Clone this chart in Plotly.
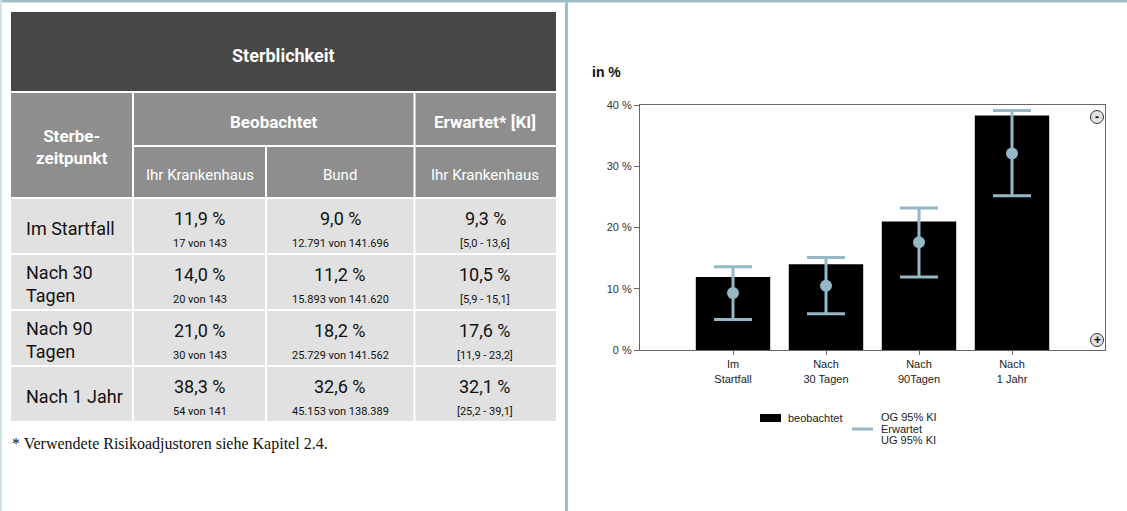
import plotly.graph_objects as go

W, H = 1127, 511

# ---------------- data ----------------
row_labels = ["Im Startfall", "Nach 30<br>Tagen", "Nach 90<br>Tagen", "Nach 1 Jahr"]
obs_house_pct = ["11,9 %", "14,0 %", "21,0 %", "38,3 %"]
obs_house_cnt = ["17 von 143", "20 von 143", "30 von 143", "54 von 141"]
obs_bund_pct = ["9,0 %", "11,2 %", "18,2 %", "32,6 %"]
obs_bund_cnt = ["12.791 von 141.696", "15.893 von 141.620", "25.729 von 141.562", "45.153 von 138.389"]
exp_pct = ["9,3 %", "10,5 %", "17,6 %", "32,1 %"]
exp_ki = ["[5,0 - 13,6]", "[5,9 - 15,1]", "[11,9 - 23,2]", "[25,2 - 39,1]"]

categories = ["Im<br>Startfall", "Nach<br>30 Tagen", "Nach<br>90Tagen", "Nach<br>1 Jahr"]
beobachtet = [11.9, 14.0, 21.0, 38.3]
erwartet = [9.3, 10.5, 17.6, 32.1]
ug_95 = [5.0, 5.9, 11.9, 25.2]
og_95 = [13.6, 15.1, 23.2, 39.1]
y_ticks = [0, 10, 20, 30, 40]
y_ticklabels = ["0 %", "10 %", "20 %", "30 %", "40 %"]


def px(x):
    return x / W


def py(y):
    return 1 - y / H


shapes = []
annos = []


def rect(x0, y0, x1, y1, color, line=None):
    shapes.append(dict(type="rect", xref="paper", yref="paper",
                       x0=px(x0), x1=px(x1), y0=py(y1), y1=py(y0),
                       fillcolor=color, line=line or dict(width=0), layer="below"))


def text(x, y, t, size=14, color="#222", bold=False, family="Roboto, Arial, sans-serif",
         xanchor="center"):
    if bold:
        t = "<b>" + t + "</b>"
    annos.append(dict(x=px(x), y=py(y), xref="paper", yref="paper", text=t,
                      showarrow=False, xanchor=xanchor, yanchor="middle",
                      align=xanchor if xanchor != "center" else "center",
                      font=dict(size=size, color=color, family=family)))


# ---------------- page borders ----------------
rect(0, 0, W, 2.5, "#9dbdc7")
rect(0, 0, 2, H, "#cfe2e8")
rect(565, 0, 568, H, "#9fbfc9")

# ---------------- table ----------------
TL, TR = 11, 556
c1, c2, c3 = 133, 266, 414.5
DARK, MID, LIGHT = "#474747", "#8e8e8e", "#e1e1e1"
tfont = "Roboto, Arial, sans-serif"

rect(TL, 12, TR, 91, DARK)
text((TL + TR) / 2, 55, "Sterblichkeit", 18, "white", True, tfont)

rect(TL, 93, c1 - 1, 197, MID)
rect(c1 + 1, 93, c3 - 1, 145, MID)
rect(c3 + 1, 93, TR, 145, MID)
rect(c1 + 1, 147, c2 - 1, 197, MID)
rect(c2 + 1, 147, c3 - 1, 197, MID)
rect(c3 + 1, 147, TR, 197, MID)
text((TL + c1) / 2, 147, "Sterbe-<br>zeitpunkt", 17, "white", True, tfont)
text((c1 + c3) / 2, 122, "Beobachtet", 17, "white", True, tfont)
text((c3 + TR) / 2, 122, "Erwartet* [KI]", 17, "white", True, tfont)
text((c1 + c2) / 2, 175, "Ihr Krankenhaus", 15, "white", False, tfont)
text((c2 + c3) / 2, 175, "Bund", 15, "white", False, tfont)
text((c3 + TR) / 2, 175, "Ihr Krankenhaus", 15, "white", False, tfont)

row_tops = [199, 255, 311, 367]
row_h = 54
for i, top in enumerate(row_tops):
    bot = top + row_h
    rect(TL, top, c1 - 1, bot, LIGHT)
    rect(c1 + 1, top, c2 - 1, bot, LIGHT)
    rect(c2 + 1, top, c3 - 1, bot, LIGHT)
    rect(c3 + 1, top, TR, bot, LIGHT)
    text(24, top + 29, row_labels[i], 18, "#111", False, tfont, xanchor="left")
    for cx, big, small in [((c1 + c2) / 2, obs_house_pct[i], obs_house_cnt[i]),
                           ((c2 + c3) / 2, obs_bund_pct[i], obs_bund_cnt[i]),
                           ((c3 + TR) / 2, exp_pct[i], exp_ki[i])]:
        text(cx, top + 19, big, 18, "#111", False, tfont)
        text(cx, top + 44, small, 11, "#111", False, tfont)

text(10, 444, "* Verwendete Risikoadjustoren siehe Kapitel 2.4.", 16, "#111", False,
     "Liberation Serif, DejaVu Serif, serif", xanchor="left")

# ---------------- chart ----------------
EB = "#94b8c4"
fig = go.Figure()
fig.add_trace(go.Bar(x=categories, y=beobachtet, marker=dict(color="black", line=dict(width=0)),
                     width=0.8, name="beobachtet", showlegend=False, hoverinfo="y"))
fig.add_trace(go.Scatter(
    x=categories, y=erwartet, mode="markers", name="Erwartet", showlegend=False,
    marker=dict(color=EB, size=12),
    error_y=dict(type="data", symmetric=False,
                 array=[o - e for o, e in zip(og_95, erwartet)],
                 arrayminus=[e - u for e, u in zip(erwartet, ug_95)],
                 color=EB, thickness=3, width=19)))

text(590, 72, "in %", 14, "#111", True, "Arial, Liberation Sans, sans-serif", xanchor="left")

# legend (drawn)
rect(760, 414, 781, 422, "black")
text(786, 418, "beobachtet", 11, "#222", False, "Arial, Liberation Sans, sans-serif", xanchor="left")
shapes.append(dict(type="line", xref="paper", yref="paper", x0=px(852), x1=px(873),
                   y0=py(429), y1=py(429), line=dict(color=EB, width=3)))
text(879, 417, "OG 95% KI", 11, "#222", False, "Arial, Liberation Sans, sans-serif", xanchor="left")
text(879, 429, "Erwartet", 11, "#222", False, "Arial, Liberation Sans, sans-serif", xanchor="left")
text(879, 440, "UG 95% KI", 11, "#222", False, "Arial, Liberation Sans, sans-serif", xanchor="left")

# zoom buttons
for cy, sym in [(117, "-"), (340, "+")]:
    shapes.append(dict(type="circle", xref="paper", yref="paper",
                       x0=px(1090.5), x1=px(1103.5), y0=py(cy + 6.5), y1=py(cy - 6.5),
                       fillcolor="#e2e2e2", line=dict(color="#333", width=1), layer="above"))
    text(1097, cy, sym, 12, "#000", True, "Arial, sans-serif")

fig.update_layout(
    width=W, height=H, margin=dict(l=0, r=0, t=0, b=0, pad=0), autosize=False,
    paper_bgcolor="white", plot_bgcolor="white",
    shapes=shapes, annotations=annos, showlegend=False,
    xaxis=dict(domain=[px(640), px(1105)], range=[-1, 4], type="category", automargin=False,
               showgrid=False, zeroline=False, showline=True, mirror=True,
               linecolor="#666", linewidth=1, ticks="outside", ticklen=4, tickcolor="#666",
               tickfont=dict(size=11, color="#222", family="Arial, Liberation Sans, sans-serif")),
    yaxis=dict(domain=[py(350), py(105)], range=[0, 40], tickmode="array", automargin=False,
               tickvals=y_ticks, ticktext=y_ticklabels,
               showgrid=False, zeroline=False, showline=True, mirror=True,
               linecolor="#666", linewidth=1, ticks="outside", ticklen=5, tickcolor="#666",
               tickfont=dict(size=11, color="#333", family="Arial, Liberation Sans, sans-serif")),
)

fig.write_html("out.html", config={"displayModeBar": False}, post_script=(
    "document.documentElement.style.margin='0';document.body.style.margin='0';"
    "document.body.style.padding='0';document.body.style.overflow='hidden';"))
